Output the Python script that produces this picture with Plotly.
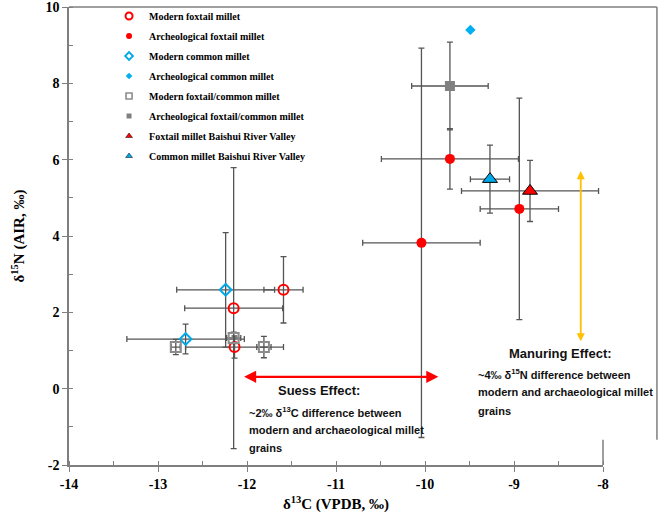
import plotly.graph_objects as go

# ---- data (δ13C, δ15N, error bars) ----
mod_fox_x = [-11.59, -12.15, -12.14]
mod_fox_y = [2.59, 2.11, 1.09]
mod_fox_ex = [0.22, 0.55, 0.55]
mod_fox_ey = [0.87, 3.68, 0.29]

arc_fox_x = [-9.72, -8.94, -10.04]
arc_fox_y = [6.02, 4.71, 3.82]
arc_fox_ex = [0.77, 0.44, 0.66]
arc_fox_ey = [0.79, 2.9, 5.1]

mod_com_x = [-12.24, -12.69]
mod_com_y = [2.59, 1.30]
mod_com_ex = [0.55, 0.66]
mod_com_ey = [1.5, 0.39]

arc_com_x = [-9.49]
arc_com_y = [9.40]

mod_fc_x = [-12.80, -12.15, -11.81]
mod_fc_y = [1.09, 1.33, 1.09]
mod_fc_ex = [0.05, 0.08, 0.08]
mod_fc_ey = [0.2, 0.15, 0.28]

arc_fc_x = [-9.72]
arc_fc_y = [7.93]
arc_fc_ex = [0.43]
arc_fc_ey = [1.15]

bs_fox_x = [-8.82]
bs_fox_y = [5.18]
bs_fox_ex = [0.77]
bs_fox_ey = [0.8]

bs_com_x = [-9.27]
bs_com_y = [5.49]
bs_com_ex = [0.22]
bs_com_ey = [0.89]

x_ticks = [-14, -13, -12, -11, -10, -9, -8]
y_ticks = [-2, 0, 2, 4, 6, 8, 10]

ERR = "#555555"
AXC = "#7F7F7F"

def err(vals):
    return dict(type="data", array=vals, visible=True, color=ERR, thickness=1.3, width=3)

fig = go.Figure()

def add(name, x, y, marker, legend_marker, ex=None, ey=None):
    fig.add_trace(go.Scatter(
        x=x, y=y, mode="markers", name=name, marker=marker, showlegend=False,
        legendgroup=name,
        error_x=err(ex) if ex else None,
        error_y=err(ey) if ey else None,
    ))
    # small legend proxy (no data drawn)
    fig.add_trace(go.Scatter(x=[None], y=[None], mode="markers", name=name,
                             marker=legend_marker, legendgroup=name, showlegend=True))

RED = "#FF0000"
CYAN = "#00A9E8"
GRAY = "#8C8C8C"

add("Modern foxtail millet", mod_fox_x, mod_fox_y,
    dict(symbol="circle-open", size=10, color=RED, line=dict(width=2, color=RED)),
    dict(symbol="circle-open", size=7, color=RED, line=dict(width=2, color=RED)),
    mod_fox_ex, mod_fox_ey)
add("Archeological foxtail millet", arc_fox_x, arc_fox_y,
    dict(symbol="circle", size=10, color=RED),
    dict(symbol="circle", size=6, color=RED),
    arc_fox_ex, arc_fox_ey)
add("Modern common millet", mod_com_x, mod_com_y,
    dict(symbol="diamond-open", size=9, color=CYAN, line=dict(width=2, color=CYAN)),
    dict(symbol="diamond-open", size=6, color=CYAN, line=dict(width=1.8, color=CYAN)),
    mod_com_ex, mod_com_ey)
add("Archeological common millet", arc_com_x, arc_com_y,
    dict(symbol="diamond", size=8, color="#00B0F0"),
    dict(symbol="diamond", size=5, color="#00B0F0"))
add("Modern foxtail/common millet", mod_fc_x, mod_fc_y,
    dict(symbol="square-open", size=10, color=GRAY, line=dict(width=2, color=GRAY)),
    dict(symbol="square-open", size=6, color=GRAY, line=dict(width=1.6, color=GRAY)),
    mod_fc_ex, mod_fc_ey)
add("Archeological foxtail/common millet", arc_fc_x, arc_fc_y,
    dict(symbol="square", size=10, color="#808080"),
    dict(symbol="square", size=5, color="#808080"),
    arc_fc_ex, arc_fc_ey)
add("Foxtail millet Baishui River Valley", bs_fox_x, bs_fox_y,
    dict(symbol="triangle-up", size=13, color=RED, line=dict(width=1, color="#000000")),
    dict(symbol="triangle-up", size=6, color=RED, line=dict(width=0.5, color="#000000")),
    bs_fox_ex, bs_fox_ey)
add("Common millet Baishui River Valley", bs_com_x, bs_com_y,
    dict(symbol="triangle-up", size=13, color=CYAN, line=dict(width=1, color="#000000")),
    dict(symbol="triangle-up", size=6, color=CYAN, line=dict(width=0.5, color="#000000")),
    bs_com_ex, bs_com_ey)

# arrows
fig.add_annotation(x=-9.85, y=0.31, ax=-12.05, ay=0.31, xref="x", yref="y", axref="x", ayref="y",
                   text="", showarrow=True, arrowhead=2, arrowside="end+start",
                   arrowsize=1.1, arrowwidth=2.2, arrowcolor=RED)
fig.add_annotation(x=-8.25, y=5.70, ax=-8.25, ay=1.20, xref="x", yref="y", axref="x", ayref="y",
                   text="", showarrow=True, arrowhead=2, arrowside="end+start",
                   arrowsize=0.9, arrowwidth=1.8, arrowcolor="#FFC000")

SANS = "Liberation Sans, Arial, sans-serif"
def txt(x, y, s, size=11, xanchor="left"):
    fig.add_annotation(x=x, y=y, xref="x", yref="y", text=s, showarrow=False,
                       xanchor=xanchor, yanchor="middle",
                       font=dict(family=SANS, size=size, color="#111111"))

txt(-11.19, -0.06, "<b>Suess Effect:</b>", size=13, xanchor="center")
txt(-12.0, -0.61, "<b>~2‰ δ<sup>13</sup>C difference between</b>")
txt(-12.0, -1.08, "<b>modern and archaeological millet</b>")
txt(-12.0, -1.55, "<b>grains</b>")

txt(-8.48, 0.91, "<b>Manuring Effect:</b>", size=13, xanchor="center")
txt(-9.43, 0.39, "<b>~4‰ δ<sup>15</sup>N difference between</b>")
txt(-9.43, -0.10, "<b>modern and archaeological millet</b>")
txt(-9.43, -0.58, "<b>grains</b>")

# outer frame lines (top line extended, right frame line beyond the axis end)
fig.add_shape(type="line", xref="paper", yref="paper", x0=0, x1=1.101, y0=1, y1=1,
              line=dict(color=AXC, width=1.5))
fig.add_shape(type="line", xref="paper", yref="paper", x0=1.101, x1=1.101, y0=1, y1=0.055,
              line=dict(color=AXC, width=1.5))
fig.add_shape(type="line", xref="paper", yref="paper", x0=1, x1=1, y0=0, y1=0.055,
              line=dict(color=AXC, width=1.5))

SERIF = "Liberation Serif, Times New Roman, serif"
axis_common = dict(
    showgrid=False, zeroline=False, showline=True, linecolor=AXC, linewidth=1.5,
    ticks="outside", ticklen=5, tickcolor=AXC, tickwidth=1.3,
    tickfont=dict(family=SERIF, size=14, color="#000000", weight="bold"),
    minor=dict(ticks="inside", ticklen=4, tickcolor=AXC, tickwidth=1.3, showgrid=False),
    automargin=False, ticklabeloverflow="allow",
)

fig.update_layout(
    width=666, height=519,
    margin=dict(l=69, r=63, t=7, b=54, autoexpand=False),
    plot_bgcolor="white", paper_bgcolor="white",
    xaxis=dict(range=[-14, -8], tickvals=x_ticks, ticktext=[str(v) for v in x_ticks],
               title=dict(text="<b>δ<sup>13</sup>C (VPDB, ‰)</b>", font=dict(family=SERIF, size=15, color="#000"),
                          standoff=8),
               minor_dtick=0.5, **axis_common),
    yaxis=dict(range=[-2, 10], tickvals=y_ticks, ticktext=[str(v) for v in y_ticks],
               title=dict(text="<b>δ<sup>15</sup>N (AIR, ‰)</b>", font=dict(family=SERIF, size=15, color="#000"),
                          standoff=17),
               minor_dtick=1, **axis_common),
    showlegend=True,
    legend=dict(x=0.075, y=1.012, xanchor="left", yanchor="top", bgcolor="rgba(0,0,0,0)",
                font=dict(family=SERIF, size=10, color="#000", weight="bold"), itemwidth=30,
                tracegroupgap=1),
)

fig.write_html("out.html", post_script="document.body.style.margin='0';",
               config={"displayModeBar": False})
